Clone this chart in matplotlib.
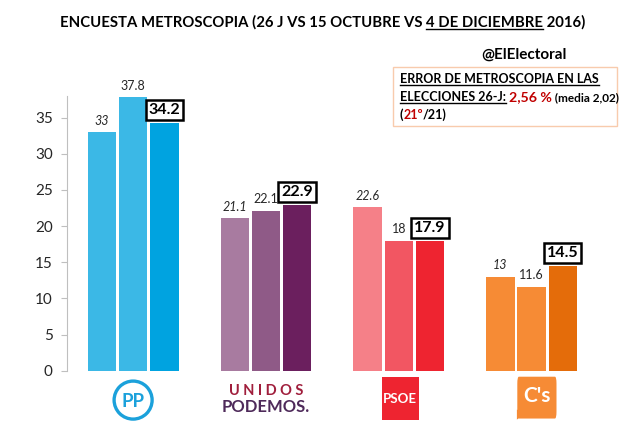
import numpy as np
import matplotlib.pyplot as plt
from matplotlib.lines import Line2D
from matplotlib.patches import Rectangle, Ellipse, FancyBboxPatch, Polygon

plt.rcParams['font.family'] = ['Lato', 'DejaVu Sans']

parties = ['PP', 'UNIDOS PODEMOS', 'PSOE', "C's"]
jun26 = [33, 21.1, 22.6, 13]
oct15 = [37.8, 22.1, 18, 11.6]
dec4 = [34.2, 22.9, 17.9, 14.5]
series = [jun26, oct15, dec4]

colors = [
    ['#3BB8E6', '#3BB8E6', '#00A3E0'],
    ['#A87BA0', '#8F5A87', '#6B1F5E'],
    ['#F58088', '#F25662', '#EE2430'],
    ['#F68B35', '#F68B35', '#E46C0A'],
]

W, H = 640, 432
fig = plt.figure(figsize=(6.4, 4.32), dpi=100)
ax_l, ax_r, ax_b, ax_t = 66.7, 598, 370.7, 96
ax = fig.add_axes([ax_l / W, 1 - ax_b / H, (ax_r - ax_l) / W, (ax_b - ax_t) / H])

x = np.arange(len(parties))
step = 0.235
bw = 0.214
for k, vals in enumerate(series):
    xs = x + (k - 1) * step
    ax.bar(xs, vals, bw, color=[c[k] for c in colors], zorder=2)
    for xi, v in zip(xs, vals):
        lab = '{:g}'.format(v)
        if k == 0:
            ax.annotate(lab, (xi, v), xytext=(0, 4), textcoords='offset points',
                        ha='center', va='bottom', fontsize=9, style='italic', color='#262626')
        elif k == 1:
            ax.annotate(lab, (xi, v), xytext=(0, 4), textcoords='offset points',
                        ha='center', va='bottom', fontsize=9, color='#262626')
        else:
            ax.annotate(lab, (xi, v), xytext=(0, 4.5), textcoords='offset points',
                        ha='center', va='bottom', fontsize=11.5, fontweight='bold', color='black',
                        bbox=dict(boxstyle='square,pad=0.18', fc='white', ec='black', lw=1.8))

ax.set_xlim(-0.5, 3.5)
ax.set_ylim(0, 38)
ax.set_yticks(range(0, 36, 5))
ax.set_xticks([])
for s in ['top', 'right', 'bottom']:
    ax.spines[s].set_visible(False)
ax.spines['left'].set_color('#BFBFBF')
ax.tick_params(axis='y', length=4, color='#BFBFBF', pad=6, labelsize=11, labelcolor='#262626')

# logos under the categories (x in data units, y in axes fraction)
tr = ax.get_xaxis_transform()
px_x = 1 / 132.8          # one pixel in data units
px_y = 1 / (ax_b - ax_t)  # one pixel in axes fraction

ax.add_patch(Ellipse((0.0, -0.107), 38 * px_x, 38 * px_y, transform=tr, fc='white',
                     ec='#1BA1DB', lw=2.4, clip_on=False))
ax.text(0.0, -0.112, 'PP', transform=tr, ha='center', va='center', fontsize=13.5,
        fontweight='bold', color='#1BA1DB', clip_on=False)

ax.text(1, -0.075, 'U N I D O S', transform=tr, ha='center', va='center', fontsize=10.5,
        fontweight='bold', color='#A01E3C', clip_on=False)
ax.text(1, -0.133, 'PODEMOS.', transform=tr, ha='center', va='center', fontsize=12,
        fontweight='bold', color='#4E2A5A', clip_on=False)

ax.add_patch(Rectangle((2.01 - 18.5 * px_x, -0.0994 - 21.5 * px_y), 37 * px_x, 43 * px_y,
                       transform=tr, fc='#EE2430', ec='none', clip_on=False))
ax.text(2.01, -0.103, 'PSOE', transform=tr, ha='center', va='center', fontsize=9.5,
        fontweight='bold', color='white', clip_on=False)

cx, cy = 3.04, -0.098
ax.add_patch(FancyBboxPatch((cx - 18 * px_x, cy - 14 * px_y), 36 * px_x, 28 * px_y,
                            boxstyle='round,pad=0.012,rounding_size=0.012', mutation_aspect=2.1,
                            transform=tr, fc='#F68B35', ec='none', clip_on=False))
ax.add_patch(Polygon([(cx - 20 * px_x, cy - 12 * px_y), (cx - 20 * px_x, cy - 22 * px_y),
                      (cx - 11 * px_x, cy - 15 * px_y)], closed=True, transform=tr,
                     fc='#F68B35', ec='none', clip_on=False))
ax.text(cx, cy + 0.005, "C's", transform=tr, ha='center', va='center', fontsize=15,
        fontweight='bold', color='white', clip_on=False)

fig.canvas.draw()
rend = fig.canvas.get_renderer()


def text_width(s, kw):
    t = fig.text(0, 0, 'x' + s + 'x', **kw)
    w1 = t.get_window_extent(rend).width
    t.set_text('xx')
    w2 = t.get_window_extent(rend).width
    t.remove()
    return w1 - w2


def rich(parts, x_px, y_px, align='left'):
    widths = [text_width(s, kw) for s, kw, ul in parts]
    if align == 'center':
        x_px = x_px - sum(widths) / 2
    for (s, kw, ul), w in zip(parts, widths):
        fig.text(x_px / W, 1 - y_px / H, s, ha='left', va='baseline', **kw)
        if ul:
            fig.add_artist(Line2D([x_px / W, (x_px + w) / W], [1 - (y_px + 2) / H] * 2,
                                  transform=fig.transFigure, color=kw.get('color', 'black'), lw=1))
        x_px += w


tkw = dict(fontsize=10.7, fontweight='bold', color='black')
rich([('ENCUESTA METROSCOPIA (26 J VS 15 OCTUBRE VS ', tkw, False),
      ('4 DE DICIEMBRE', tkw, True),
      (' 2016)', tkw, False)], 323, 27, align='center')

fig.text(567 / W, 1 - 59 / H, '@ElElectoral', ha='right', va='baseline',
         fontsize=11, fontweight='bold', color='black')

fig.add_artist(Rectangle((393 / W, 1 - 126 / H), (617 - 393) / W, (126 - 67) / H,
                         transform=fig.transFigure, fc='white', ec='#F8CBAD', lw=1))
bk = dict(fontsize=9, fontweight='bold', color='black')
rd = dict(fontsize=10.2, fontweight='bold', color='#C00000')
sm = dict(fontsize=8.5, fontweight='bold', color='black')
rich([('ERROR DE METROSCOPIA EN LAS', bk, True)], 400, 83)
rich([('ELECCIONES 26-J:', bk, True), (' ', bk, False), ('2,56 %', rd, False),
      (' (media 2,02)', sm, False)], 400, 101)
rich([('(', bk, False), ('21º', dict(bk, color='#C00000'), False), ('/21)', bk, False)], 400, 119)

fig.savefig('out.png', dpi=100)
